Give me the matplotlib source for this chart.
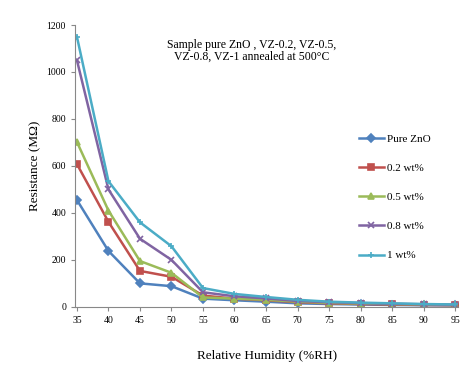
import numpy as np
import matplotlib
matplotlib.use("Agg")
import matplotlib.pyplot as plt

plt.rcParams['font.family'] = ['Liberation Serif', 'DejaVu Serif']

humidity = [35, 40, 45, 50, 55, 60, 65, 70, 75, 80, 85, 90, 95]
pure_zno = [455, 238, 100, 88, 35, 28, 22, 15, 12, 10, 8, 7, 6]
wt02 = [608, 362, 153, 128, 48, 35, 28, 20, 15, 12, 10, 8, 7]
wt05 = [702, 410, 195, 145, 40, 35, 30, 22, 17, 14, 12, 10, 8]
wt08 = [1050, 500, 290, 200, 62, 45, 36, 25, 20, 16, 13, 11, 9]
wt1 = [1150, 535, 360, 258, 80, 55, 42, 30, 22, 18, 15, 12, 10]

series = [
    ("Pure ZnO", pure_zno, "#4F81BD", "D"),
    ("0.2 wt%", wt02, "#C0504D", "s"),
    ("0.5 wt%", wt05, "#9BBB59", "^"),
    ("0.8 wt%", wt08, "#8064A2", "x"),
    ("1 wt%", wt1, "#4BACC6", "+"),
]

fig = plt.figure(figsize=(4.69, 3.85), dpi=100)
ax = fig.add_axes([0.16, 0.203, 0.817, 0.732])

for name, vals, col, mk in series:
    ax.plot(humidity, vals, color=col, lw=1.8, marker=mk, ms=4, mew=1.2,
            label=name)

ax.set_xlim(34.7, 95.5)
ax.set_ylim(0, 1200)
ax.set_xticks(humidity)
ax.set_yticks(np.arange(0, 1201, 200))
ax.tick_params(labelsize=7, length=3, color="#888888")
ax.spines['top'].set_visible(False)
ax.spines['right'].set_visible(False)
ax.spines['left'].set_color("#888888")
ax.spines['bottom'].set_color("#888888")

ax.set_xlabel("Relative Humidity (%RH)", fontsize=9.5, labelpad=18)
ax.set_ylabel("Resistance (M\u03a9)", fontsize=9.5, labelpad=4)

ax.text(0.46, 0.95, "Sample pure ZnO , VZ-0.2, VZ-0.5,\nVZ-0.8, VZ-1 annealed at 500\u00b0C",
        transform=ax.transAxes, ha="center", va="top", fontsize=8.5,
        linespacing=1.0)

ax.legend(loc="upper left", bbox_to_anchor=(0.73, 0.63), frameon=False,
          fontsize=8, labelspacing=1.75, handlelength=2.2, handletextpad=0.3,
          borderaxespad=0)

fig.savefig("out.png", dpi=100)
